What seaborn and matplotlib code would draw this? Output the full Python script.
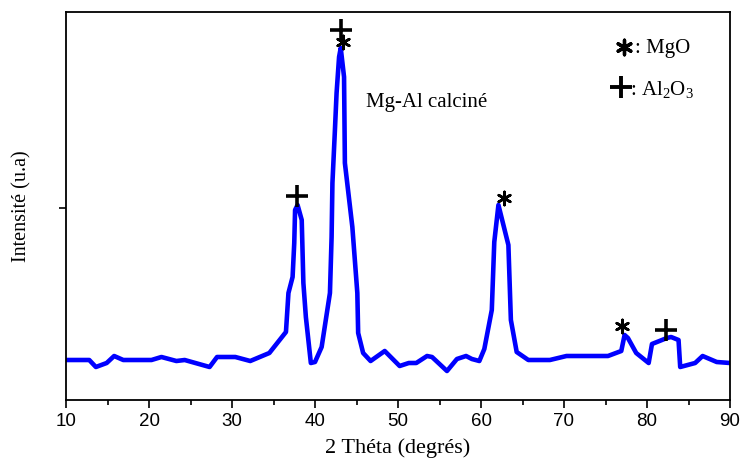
import matplotlib
matplotlib.use("Agg")
import matplotlib.pyplot as plt
import seaborn as sns
import pandas as pd
from matplotlib.ticker import MultipleLocator, FixedLocator

# Data
two_theta = [10.1, 12.8, 13.6, 14.9, 15.8, 16.9, 20.3, 21.5, 23.3, 24.3, 27.3, 28.2,
             30.4, 32.2, 34.5, 36.5, 36.8, 37.3, 37.5, 37.6, 37.9, 38.4, 38.6, 38.9,
             39.5, 40.0, 40.8, 41.8, 42.0, 42.1, 42.4, 42.6, 42.9, 43.1, 43.5, 43.6,
             44.5, 45.1, 45.2, 45.8, 46.7, 48.4, 50.2, 51.3, 52.2, 53.5, 54.1, 55.9,
             57.1, 58.2, 58.9, 59.8, 60.4, 61.3, 61.6, 62.1, 63.3, 63.6, 64.3, 65.7,
             68.3, 70.3, 75.3, 76.9, 77.3, 77.7, 78.7, 80.2, 80.6, 82.4, 82.9, 83.8,
             84.0, 85.8, 86.7, 88.4, 90.0]
intensity = [40, 40, 33, 37, 44, 40, 40, 43, 39, 40, 33, 43,
             43, 39, 47, 68, 107, 123, 157, 190, 195, 180, 117, 83,
             37, 38, 53, 107, 163, 217, 270, 307, 343, 352, 323, 237,
             173, 107, 67, 47, 39, 49, 34, 37, 37, 44, 43, 29,
             41, 44, 41, 39, 51, 90, 158, 195, 155, 80, 48, 40,
             40, 44, 44, 49, 65, 62, 47, 37, 56, 62, 63, 60,
             33, 37, 44, 38, 37]

# Phase markers
al2o3_x = [37.83, 43.13, 82.29]
al2o3_y = [204, 370, 70]
mgo_x = [43.37, 62.77, 76.99]
mgo_y = [358, 202, 74]

xticks = [10, 20, 30, 40, 50, 60, 70, 80, 90]

sns.set_theme(style="white")
plt.rcParams['font.family'] = ['Liberation Serif', 'DejaVu Serif']
plt.rcParams['mathtext.fontset'] = 'custom'
plt.rcParams['mathtext.rm'] = 'Liberation Serif'
plt.rcParams['mathtext.it'] = 'Liberation Serif:italic'
plt.rcParams['text.color'] = 'black'
plt.rcParams['axes.labelcolor'] = 'black'
plt.rcParams['xtick.color'] = 'black'
plt.rcParams['ytick.color'] = 'black'

fig = plt.figure(figsize=(7.41, 4.62), dpi=100)
ax = fig.add_axes([66/741, 62/462, 664/741, 388/462])

df = pd.DataFrame({"x": two_theta, "y": intensity})
sns.lineplot(data=df, x="x", y="y", ax=ax, color="#0000ff", linewidth=3.3,
             estimator=None, sort=False)

ax.scatter(al2o3_x, al2o3_y, marker="+", s=260, linewidths=2.6, color="black", zorder=5)
ax.scatter(mgo_x, mgo_y, marker=(6, 2, 0), s=90, linewidths=1.9, color="black", zorder=5)

ax.text(46.14, 297, "Mg-Al calciné", fontsize=15, ha="left", va="center")

# legend-like annotations
ax.scatter([77.26], [353], marker=(6, 2, 0), s=110, linewidths=2.4, color="black",
           clip_on=False, zorder=5)
ax.text(78.5, 352, ": MgO", fontsize=15, ha="left", va="center")
ax.scatter([76.9], [313], marker="+", s=260, linewidths=2.8, color="black",
           clip_on=False, zorder=5)
ax.text(77.9, 311, ": Al$_2$O$_3$", fontsize=15, ha="left", va="center")

ax.set_xlim(10, 90)
ax.set_ylim(0, 388)
ax.xaxis.set_major_locator(FixedLocator(xticks))
ax.xaxis.set_minor_locator(MultipleLocator(5))
ax.yaxis.set_major_locator(FixedLocator([192]))
ax.set_yticklabels([])

for lab in ax.get_xticklabels():
    lab.set_fontfamily("Liberation Sans")
    lab.set_fontsize(13.5)
    lab.set_color("black")

ax.tick_params(axis="x", which="major", direction="out", length=6, width=1.2,
               bottom=True, top=False, colors="black", pad=3)
ax.tick_params(axis="x", which="minor", direction="out", length=3.5, width=1.2,
               bottom=True, top=False)
ax.tick_params(axis="y", which="major", direction="out", length=5, width=1.2,
               left=True, right=False)

for sp in ax.spines.values():
    sp.set_color("black")
    sp.set_linewidth(1.3)
    sp.set_visible(True)

ax.set_xlabel("2 Théta (degrés)", fontsize=16, labelpad=6, color="black")
ax.set_ylabel("Intensité (u.a)", fontsize=14.5, labelpad=16, color="black")
ax.grid(False)

fig.savefig("out.png", dpi=100)
